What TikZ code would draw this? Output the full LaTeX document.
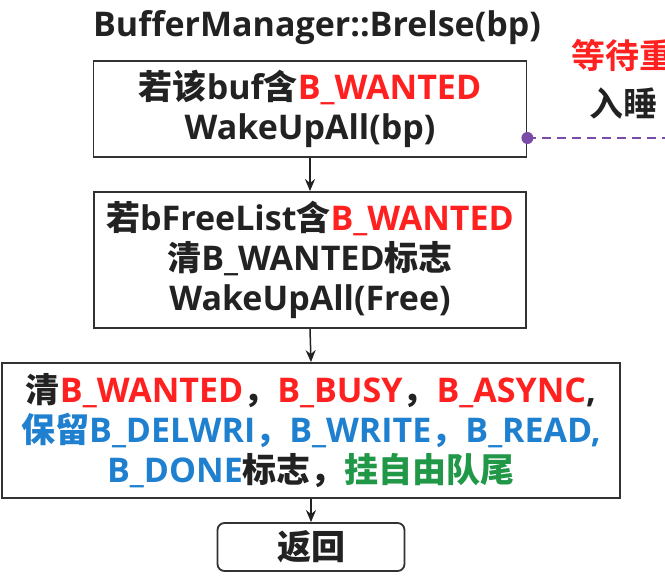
\documentclass[tikz,border=0pt]{standalone}
\usepackage{fontspec}
\setmainfont{Open Sans}
\newfontfamily\cjk{Noto Sans CJK SC Bold}
\usetikzlibrary{arrows.meta}
\definecolor{cred}{RGB}{255,32,32}
\definecolor{cblue}{RGB}{32,128,208}
\definecolor{cgreen}{RGB}{32,152,72}
\definecolor{cpurple}{RGB}{123,75,168}
\definecolor{ink}{RGB}{34,34,34}
\definecolor{boxline}{RGB}{50,50,50}
\newcommand{\cj}[1]{{\cjk #1}}
\begin{document}
\begin{tikzpicture}[x=1pt,y=-1pt,
  txt/.style={font=\fontsize{34}{40}\selectfont\bfseries, text=ink},
  box/.style={txt, draw=boxline, line width=1.8pt, align=center, inner sep=0pt, fill=white},
  arr/.style={-{Stealth[length=12pt,width=10pt]}, line width=1.5pt, draw=ink},
  link/.style={draw=cpurple, line width=1.6pt, dash pattern=on 9pt off 6pt}]
\useasboundingbox (0,0) rectangle (665,584);
\clip (0,0) rectangle (665,584);
\fill[white] (0,0) rectangle (665,584);

\node[txt, anchor=base] (title) at (317,36) {BufferManager::Brelse(bp)};

\node[box, minimum width=433pt, minimum height=96pt] (b1) at (310,109)
  {\cj{若该}buf\cj{含}\textcolor{cred}{B\_WANTED}\\WakeUpAll(bp)};

\node[box, minimum width=432pt, minimum height=136pt] (b2) at (310,260)
  {\cj{若}bFreeList\cj{含}\textcolor{cred}{B\_WANTED}\\\cj{清}B\_WANTED\cj{标志}\\WakeUpAll(Free)};

\node[box, minimum width=618pt, minimum height=135pt] (b3) at (311,430.5)
  {\cj{清}\textcolor{cred}{B\_WANTED}\cj{，}\textcolor{cred}{B\_BUSY}\cj{，}\textcolor{cred}{B\_ASYNC},\\
   \textcolor{cblue}{\cj{保留}B\_DELWRI\cj{，}B\_WRITE\cj{，}B\_READ,}\\
   \textcolor{cblue}{B\_DONE}\cj{标志，}\textcolor{cgreen}{\cj{挂自由队尾}}};

\node[box, rounded corners=7pt, minimum width=187pt, minimum height=48pt] (b4) at (311,547)
  {\cj{返回}};

\draw[arr] (b1.south) -- (b2.north);
\draw[arr] (b2.south) -- (b3.north);
\draw[arr] (b3.south) -- (b4.north);

\node[txt, anchor=west, inner sep=0pt, text=cred, font=\fontsize{34}{34}\selectfont] (t1) at (571,55) {\cj{等待重}};
\node[txt, anchor=west, inner sep=0pt, font=\fontsize{34}{34}\selectfont] (t2) at (589,104) {\cj{入睡}};

\coordinate (dot) at (b1.east |- 0,138);
\coordinate (dend) at (680,138);
\draw[link] (dot) -- (dend);
\fill[cpurple] (dot) circle (6);
\end{tikzpicture}
\end{document}
